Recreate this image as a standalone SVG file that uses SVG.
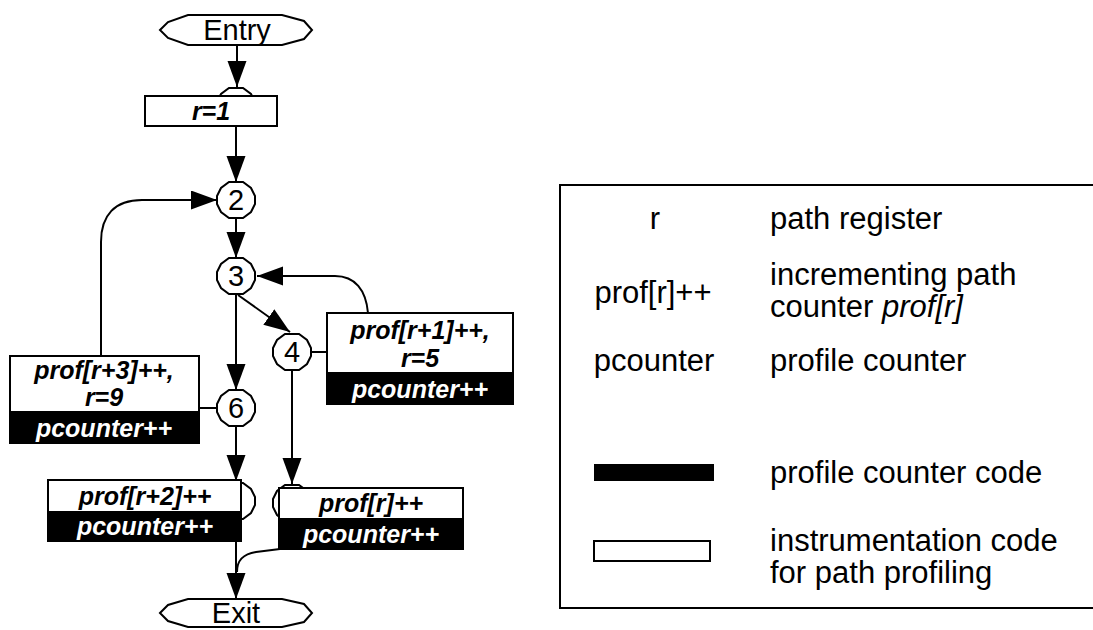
<svg xmlns="http://www.w3.org/2000/svg" xmlns:xlink="http://www.w3.org/1999/xlink" width="1093" height="630" viewBox="0 0 1093 630">
<style>
.ln{fill:none;stroke:#000;stroke-width:2}
.arr{fill:none;stroke:#000;stroke-width:2;marker-end:url(#ah)}
.node{fill:#fff;stroke:#000;stroke-width:2}
.wb{fill:#fff;stroke:#000;stroke-width:2}
.bb{fill:#000;stroke:#000;stroke-width:2}
.bi{font-family:"Liberation Sans",Arial,sans-serif;font-weight:bold;font-style:italic;font-size:25px;text-anchor:middle}
.wt{fill:#fff}
.rg{font-family:"Liberation Sans",Arial,sans-serif;font-size:29px;text-anchor:middle}
.lg{font-family:"Liberation Sans",Arial,sans-serif;font-size:31px}
</style>
<defs>
<marker id="ah" markerUnits="userSpaceOnUse" markerWidth="28" markerHeight="20" refX="26" refY="9.5" orient="auto">
<path d="M0,0 L26,9.5 L0,19 z" fill="#000"/>
</marker>
<polygon id="oct" points="-7,-18 7,-18 15,-12 19,-4 19,4 15,12 7,18 -7,18 -15,12 -19,4 -19,-4 -15,-12"/>
</defs>

<g id="connectors">
<line class="arr" x1="237" y1="46" x2="237" y2="87"/>
<line class="arr" x1="236" y1="126" x2="236" y2="182"/>
<line class="arr" x1="236" y1="218" x2="236" y2="258"/>
<line class="arr" x1="236" y1="295" x2="236" y2="390"/>
<line class="arr" x1="238" y1="295" x2="290" y2="332"/>
<path class="arr" d="M101,356 L101,242 C101,215 115,200 142,200 L217,200"/>
<path class="arr" d="M368,313 C366,290 355,276 335,276 L257,276"/>
<line class="ln" x1="311" y1="352" x2="327" y2="352"/>
<line class="ln" x1="199" y1="408" x2="217" y2="408"/>
<line class="arr" x1="236" y1="426" x2="236" y2="481"/>
<line class="arr" x1="292" y1="371" x2="292" y2="484"/>
<line class="arr" x1="236" y1="541" x2="236" y2="599"/>
<path class="ln" d="M280,549 L256,552 C243,554 237,560 237,572"/>
</g>

<g id="entry">
<polygon class="node" points="160,30 168,22 188,15 282,15 304,21 312,30 304,39 282,45 188,45 168,38"/>
<text class="rg" x="237" y="40">Entry</text>
</g>

<g id="r1">
<use href="#oct" x="236" y="106" class="node"/>
<rect class="wb" x="145" y="96" width="132" height="30"/>
<text class="bi" x="211" y="120">r=1</text>
</g>

<g id="n2">
<use href="#oct" x="236" y="200" class="node"/>
<text class="rg" x="236" y="210">2</text>
</g>

<g id="n3">
<use href="#oct" x="236" y="276" class="node"/>
<text class="rg" x="236" y="286">3</text>
</g>

<g id="n4">
<use href="#oct" x="292" y="352" class="node"/>
<text class="rg" x="292" y="362">4</text>
</g>

<g id="n6">
<use href="#oct" x="236" y="408" class="node"/>
<text class="rg" x="236" y="418">6</text>
</g>

<g id="box-r1">
<rect class="wb" x="327" y="313" width="186" height="60"/>
<rect class="bb" x="327" y="373" width="186" height="31"/>
<text class="bi" x="420" y="339">prof[r+1]++,</text>
<text class="bi" x="420" y="367">r=5</text>
<text class="bi wt" x="420" y="398">pcounter++</text>
</g>

<g id="box-r3">
<rect class="wb" x="10" y="356" width="189" height="56"/>
<rect class="bb" x="10" y="412" width="189" height="31"/>
<text class="bi" x="104" y="379">prof[r+3]++,</text>
<text class="bi" x="104" y="406">r=9</text>
<text class="bi wt" x="104" y="437">pcounter++</text>
</g>

<g id="box-r2">
<use href="#oct" x="236" y="501" class="node"/>
<rect class="wb" x="48" y="480" width="193" height="32"/>
<rect class="bb" x="48" y="512" width="193" height="29"/>
<text class="bi" x="145" y="505">prof[r+2]++</text>
<text class="bi wt" x="145" y="535">pcounter++</text>
</g>

<g id="box-r">
<use href="#oct" x="292" y="503" class="node"/>
<rect class="wb" x="279" y="488" width="184" height="31"/>
<rect class="bb" x="279" y="519" width="184" height="30"/>
<text class="bi" x="371" y="512">prof[r]++</text>
<text class="bi wt" x="371" y="543">pcounter++</text>
</g>

<g id="exit">
<polygon class="node" points="160,613 168,605 188,599 282,599 304,604 312,613 304,622 282,627 188,627 168,621"/>
<text class="rg" x="236" y="623">Exit</text>
</g>

<g id="legend">
<path class="ln" d="M1095,185 H560 V608 H1095"/>
<text class="lg" x="655" y="229" text-anchor="middle">r</text>
<text class="lg" x="770" y="229">path register</text>
<text class="lg" x="653" y="303" text-anchor="middle">prof[r]++</text>
<text class="lg" x="770" y="285">incrementing path</text>
<text class="lg" x="770" y="317">counter <tspan font-style="italic">prof[r]</tspan></text>
<text class="lg" x="654" y="371" text-anchor="middle">pcounter</text>
<text class="lg" x="770" y="371">profile counter</text>
<rect x="594" y="464" width="120" height="17" fill="#000"/>
<text class="lg" x="770" y="483">profile counter code</text>
<rect x="594" y="541" width="116" height="20" fill="#fff" stroke="#000" stroke-width="2"/>
<text class="lg" x="770" y="551">instrumentation code</text>
<text class="lg" x="770" y="583">for path profiling</text>
</g>
</svg>
